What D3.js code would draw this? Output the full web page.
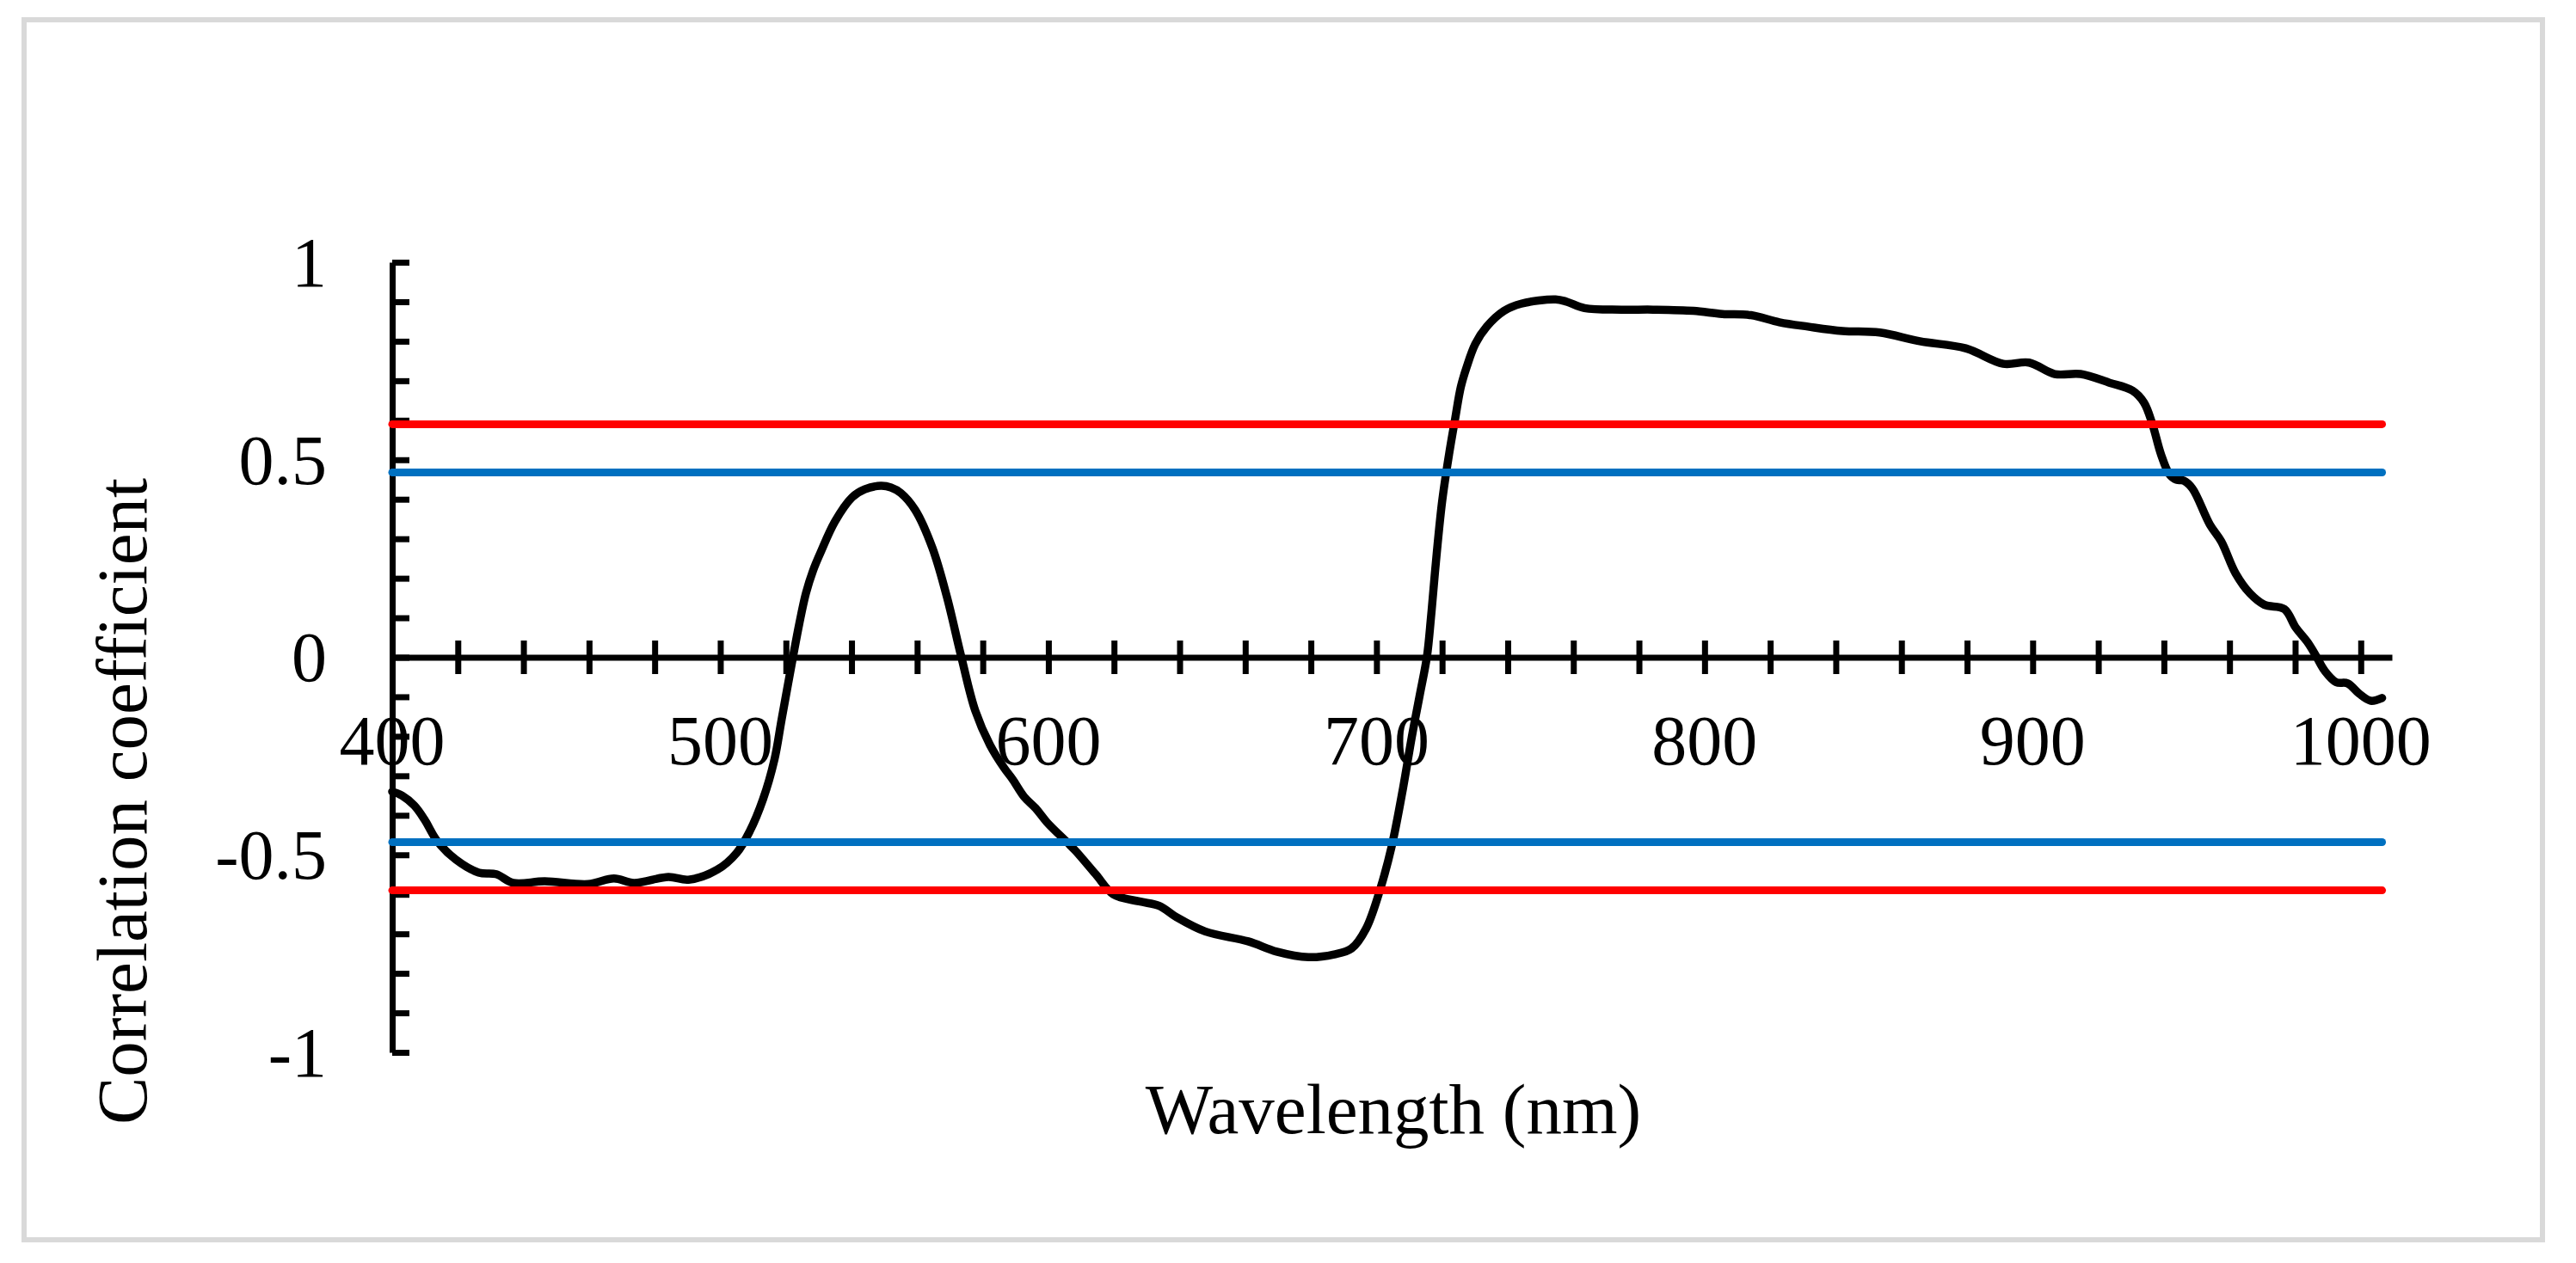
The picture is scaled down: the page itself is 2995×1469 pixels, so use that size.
<!DOCTYPE html>
<html>
<head>
<meta charset="utf-8">
<script src="https://cdn.jsdelivr.net/npm/d3@7/dist/d3.min.js"></script>
<style>
  html, body { margin: 0; padding: 0; background: #ffffff; }
  svg { display: block; }
  text { font-family: "Liberation Serif", "Times New Roman", serif; fill: #000; }
</style>
</head>
<body>
<svg id="chart" width="2995" height="1469"></svg>
<script>
// ---- Data ----
const wavelengths = [
  400, 403, 406.7, 409.8, 413.7, 419.4, 426.4, 431.7, 436.9, 446.5,
  459.7, 467.6, 473.7, 484.2, 490.3, 499, 505, 509, 513, 516.5,
  518.7, 522.2, 524.1, 526.1, 528.3, 530.5, 534.9, 540.2, 544,
  548.9, 552, 555, 559.4, 564.6, 569, 573.4, 577.7, 582.2, 586.5,
  589.1, 592.6, 596.1, 599.6, 605.8, 608.4, 614.5, 619.8, 627.7, 633.8,
  639.1, 647.8, 660.9, 669.6, 679.3, 687.1, 692.4, 696.8, 701.2, 704.7,
  708.1, 710.8, 713.2, 715.4, 716.6, 717.8, 720, 722.2, 724, 725.7, 727.5,
  730.1, 733.6, 738.9, 744.1, 754.6, 758, 763.4, 774.7, 784.3, 796.6,
  805.4, 814.1, 822.8, 831.5, 842, 853.4, 865.6, 879.6, 891, 898.9,
  906.7, 914.6, 923.4, 930.4, 933.9, 936.5, 939.1, 941.7, 943.9, 946.1,
  948.7, 954, 957.5, 961.8, 966.2, 970.6, 976.7, 980.2, 983.7, 986.4,
  989, 992.5, 996, 999.5, 1003, 1006.5
];
const correlation = [
  -0.340, -0.350, -0.375, -0.410, -0.465, -0.512, -0.545, -0.549, -0.571, -0.567,
  -0.574, -0.560, -0.571, -0.556, -0.563, -0.538, -0.495, -0.440, -0.360, -0.259,
  -0.157, 0.003, 0.086, 0.162, 0.220, 0.264, 0.343, 0.405, 0.425,
  0.434, 0.430, 0.416, 0.373, 0.278, 0.155, 0.003, -0.135, -0.222, -0.280,
  -0.309, -0.353, -0.382, -0.418, -0.469, -0.491, -0.550, -0.600, -0.618, -0.629,
  -0.658, -0.694, -0.719, -0.745, -0.759, -0.752, -0.737, -0.687, -0.585, -0.476,
  -0.331, -0.200, -0.095, 0.003, 0.100, 0.213, 0.394, 0.518, 0.605, 0.684, 0.735,
  0.793, 0.837, 0.877, 0.895, 0.906, 0.900, 0.884, 0.880, 0.880, 0.877,
  0.869, 0.866, 0.848, 0.837, 0.826, 0.822, 0.800, 0.782, 0.743, 0.746,
  0.717, 0.717, 0.695, 0.675, 0.645, 0.590, 0.514, 0.463, 0.449, 0.447,
  0.427, 0.336, 0.293, 0.213, 0.162, 0.133, 0.122, 0.075, 0.039, 0.003,
  -0.034, -0.063, -0.066, -0.092, -0.110, -0.103
];
// significance thresholds (r at p=0.01 and p=0.05)
const thresholdValues = [0.590, 0.468, -0.468, -0.590];
const thresholdKinds  = ["p01", "p05", "p05", "p01"];
const xTickValues  = [400, 420, 440, 460, 480, 500, 520, 540, 560, 580, 600, 620, 640, 660, 680, 700, 720, 740, 760, 780, 800, 820, 840, 860, 880, 900, 920, 940, 960, 980, 1000];
const xTickLabels  = [400, 500, 600, 700, 800, 900, 1000];
const yTickValues  = [-1, -0.9, -0.8, -0.7, -0.6, -0.5, -0.4, -0.3, -0.2, -0.1, 0, 0.1, 0.2, 0.3, 0.4, 0.5, 0.6, 0.7, 0.8, 0.9, 1];
const yTickLabels  = [{v: 1, t: "1"}, {v: 0.5, t: "0.5"}, {v: 0, t: "0"}, {v: -0.5, t: "-0.5"}, {v: -1, t: "-1"}];
const xTitle = "Wavelength (nm)";
const yTitle = "Correlation coefficient";

// ---- Styles ----
const kindColor = { p01: "#FF0000", p05: "#0070C0" };
const axisW = 7;

const svg = d3.select("#chart");

// frame
svg.append("rect")
  .attr("x", 28).attr("y", 23).attr("width", 2928).attr("height", 1419)
  .attr("fill", "#fff").attr("stroke", "#D9D9D9").attr("stroke-width", 6);

const x = d3.scaleLinear().domain([400, 1009.5]).range([456, 2781]);
const y = d3.scaleLinear().domain([-1, 1]).range([1224, 305]);

// X axis (crossing ticks)
const xAxis = d3.axisBottom(x).tickValues(xTickValues).tickSizeOuter(0).tickSizeInner(19.5).tickFormat("");
const gx = svg.append("g").attr("transform", `translate(0,${y(0)})`).call(xAxis);
gx.select(".domain").attr("stroke", "#000").attr("stroke-width", axisW);
gx.selectAll(".tick line").attr("stroke", "#000").attr("stroke-width", axisW).attr("y1", -19.5).attr("y2", 19.5);

// X tick labels
svg.append("g").selectAll("text").data(xTickLabels).join("text")
  .attr("x", d => x(d)).attr("y", 889)
  .attr("text-anchor", "middle").attr("font-size", 82)
  .text(d => d);

// Y axis (ticks inside, to the right)
const yAxis = d3.axisRight(y).tickValues(yTickValues).tickSizeOuter(0).tickSizeInner(20).tickFormat("");
const gy = svg.append("g").attr("transform", `translate(${x(400)},0)`).call(yAxis);
gy.select(".domain").attr("stroke", "#000").attr("stroke-width", axisW);
gy.selectAll(".tick line").attr("stroke", "#000").attr("stroke-width", axisW);

// Y tick labels
svg.append("g").selectAll("text").data(yTickLabels).join("text")
  .attr("x", 380).attr("y", d => y(d.v)).attr("dy", "0.34em")
  .attr("text-anchor", "end").attr("font-size", 82)
  .text(d => d.t);

// correlation curve
const pts = wavelengths.map((w, i) => ({w, r: correlation[i]}));
const line = d3.line().x(d => x(d.w)).y(d => y(d.r)).curve(d3.curveCatmullRom.alpha(0.5));
svg.append("path").datum(pts)
  .attr("d", line).attr("fill", "none").attr("stroke", "#000")
  .attr("stroke-width", 9.5).attr("stroke-linejoin", "round").attr("stroke-linecap", "round");

// threshold lines
const [wMin, wMax] = d3.extent(wavelengths);
svg.append("g").selectAll("line").data(thresholdValues).join("line")
  .attr("x1", x(wMin)).attr("x2", x(wMax))
  .attr("y1", d => y(d)).attr("y2", d => y(d))
  .attr("stroke", (d, i) => kindColor[thresholdKinds[i]])
  .attr("stroke-width", 9).attr("stroke-linecap", "round");

// titles
svg.append("text").attr("x", 1620).attr("y", 1318)
  .attr("text-anchor", "middle").attr("font-size", 83).text(xTitle);
svg.append("text").attr("transform", "translate(170,932) rotate(-90)")
  .attr("text-anchor", "middle").attr("font-size", 83).text(yTitle);
</script>
</body>
</html>
